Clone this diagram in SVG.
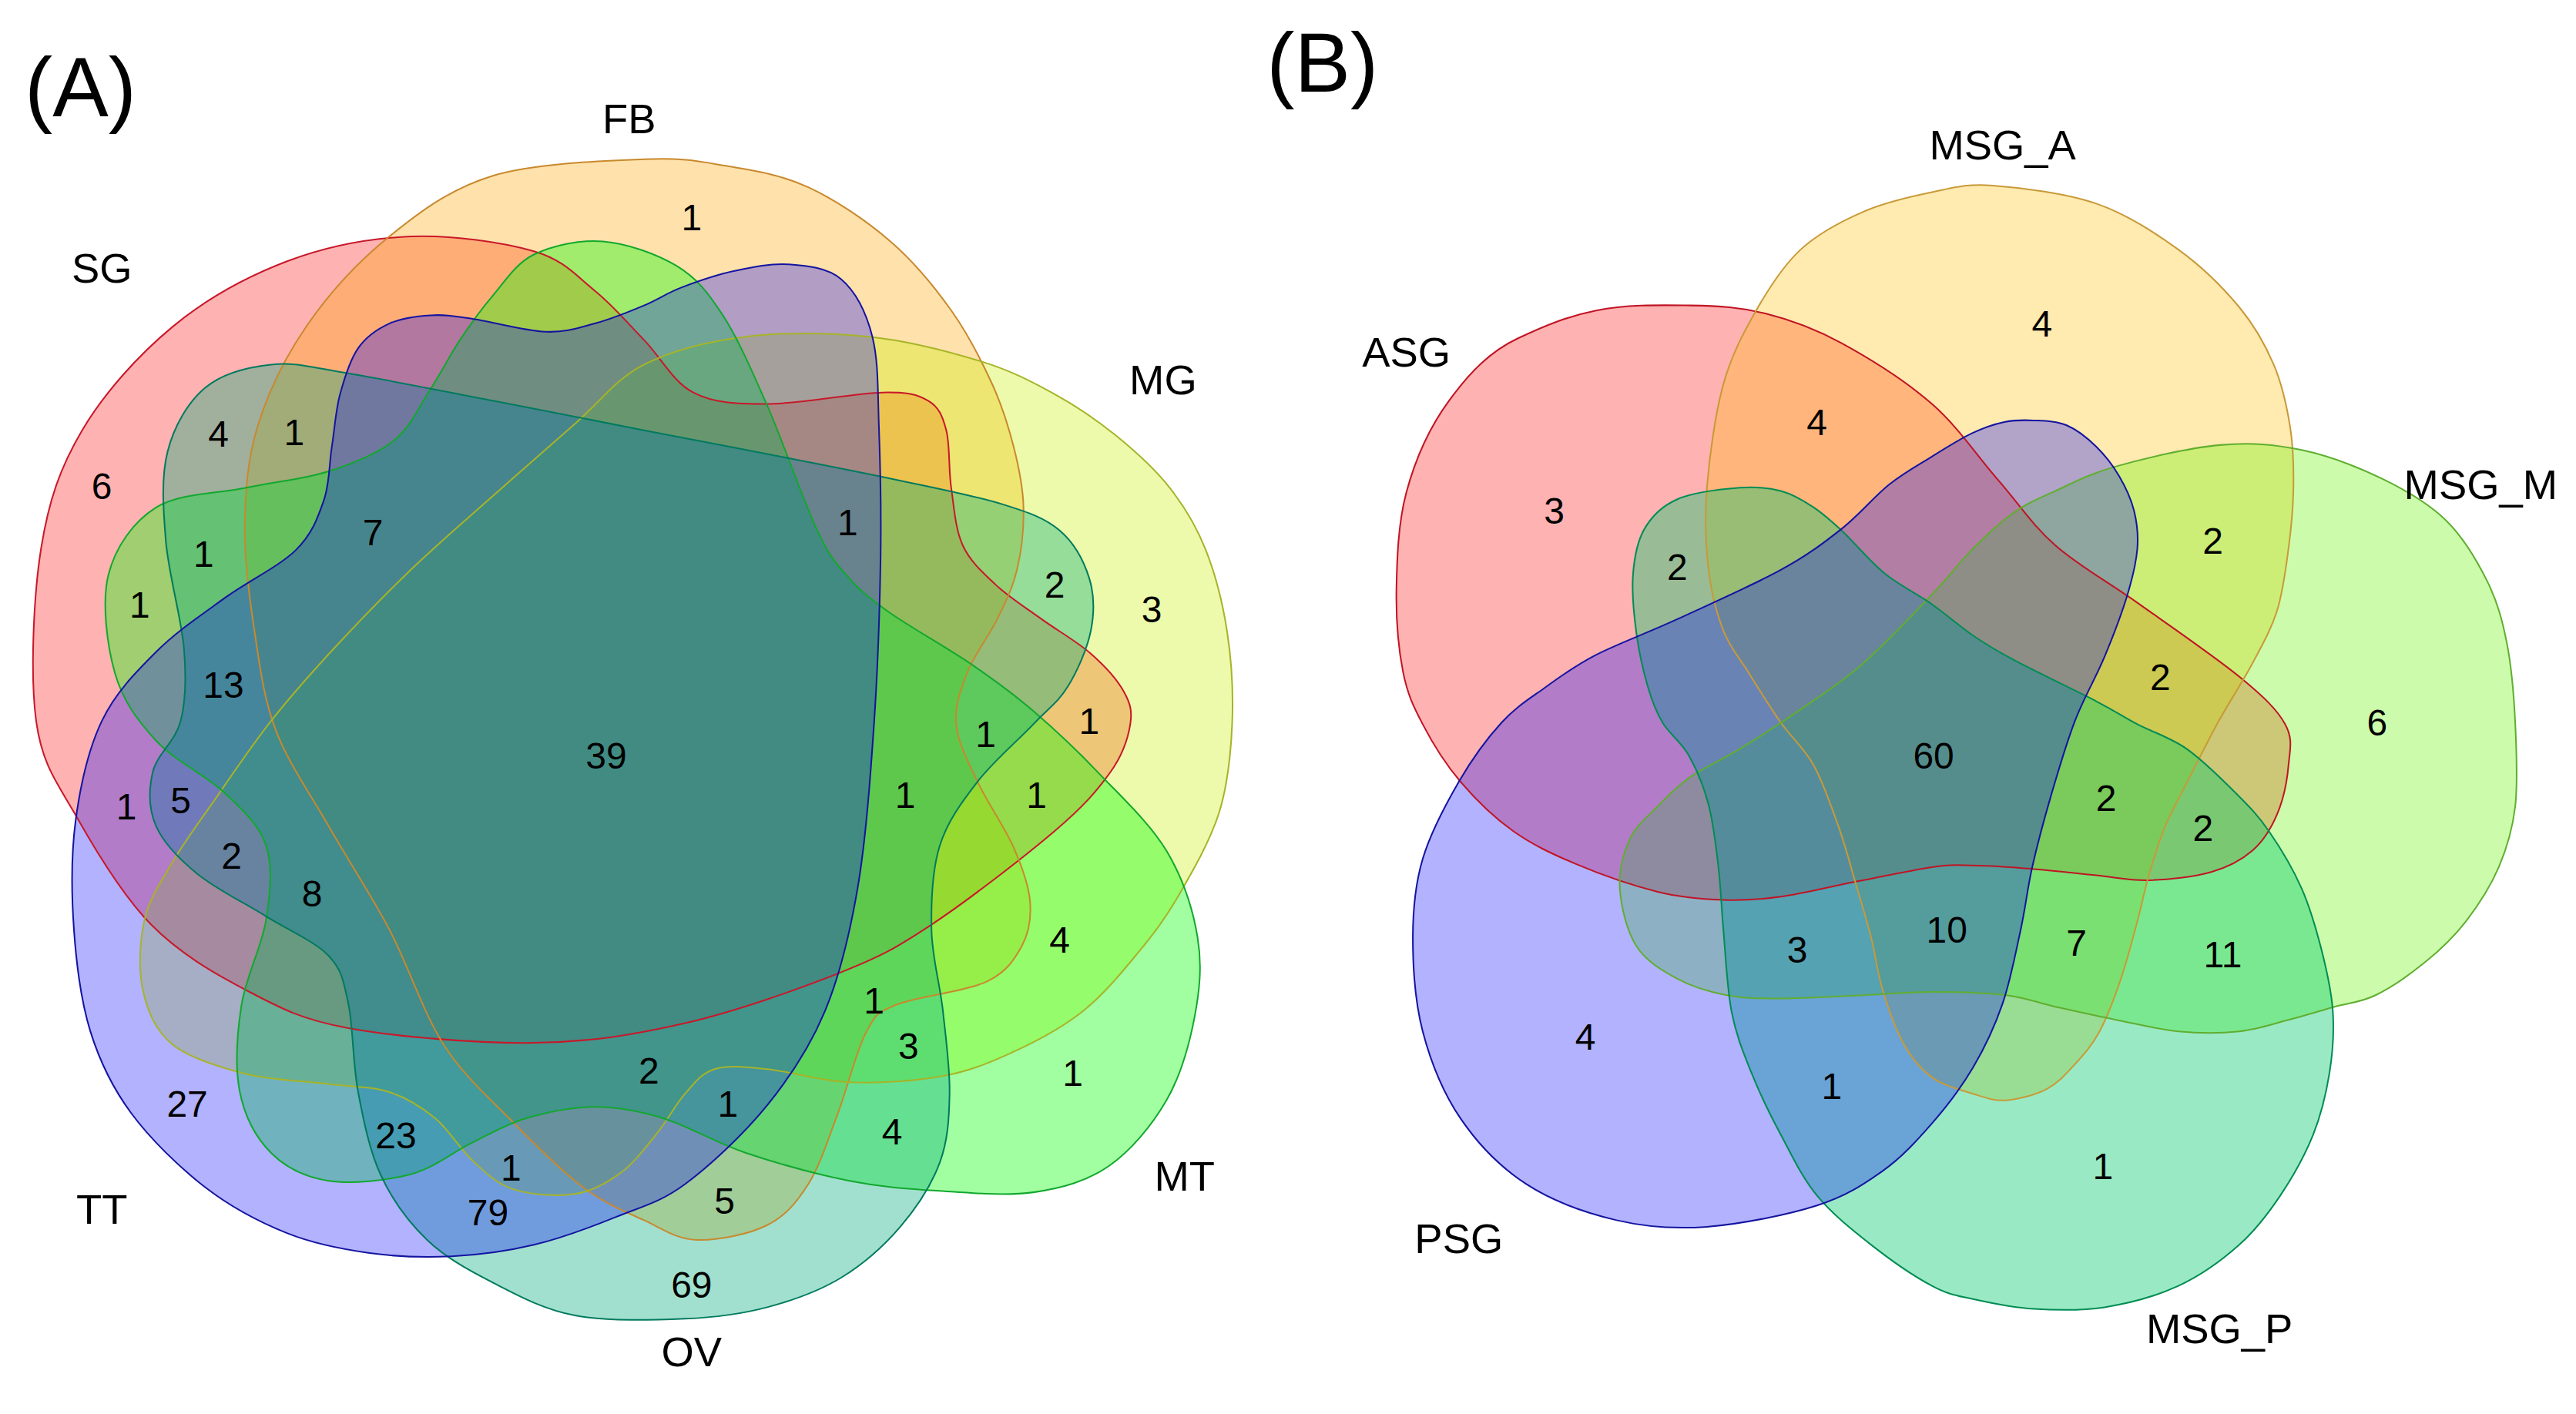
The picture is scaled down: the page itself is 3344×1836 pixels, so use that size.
<svg xmlns="http://www.w3.org/2000/svg" width="3344" height="1836" viewBox="0 0 3344 1836">
<style>
.node{stroke:none}
.a-sg{fill:#ff0000;fill-opacity:.3}
.a-fb{fill:#ffa500;fill-opacity:.33}
.a-mg{fill:#c8f000;fill-opacity:.33}
.a-mt{fill:#00ff00;fill-opacity:.37}
.a-ov{fill:#00ab7b;fill-opacity:.37}
.a-tt{fill:#0000ff;fill-opacity:.3}
.b-asg{fill:#ff0000;fill-opacity:.3}
.b-msga{fill:#ffbb00;fill-opacity:.31}
.b-msgm{fill:#64f600;fill-opacity:.33}
.b-msgp{fill:#00ca6b;fill-opacity:.4}
.b-psg{fill:#0000ff;fill-opacity:.3}
.ol use{fill:none;stroke-width:.95;stroke-linejoin:round}
.o-sg{stroke:#c8182a}
.o-fb{stroke:#c8892e}
.o-mg{stroke:#a6b428}
.o-mt{stroke:#12a82e}
.o-ov{stroke:#007a5e}
.o-tt{stroke:#1414a0}
.o-asg{stroke:#c01424}
.o-msga{stroke:#c89a38}
.o-msgm{stroke:#60ae30}
.o-msgp{stroke:#008c54}
.o-psg{stroke:#1414a0}
text{font-family:"Liberation Sans",Arial,Helvetica,sans-serif;fill:#000;text-anchor:middle}
.num{font-size:22.5px}
.lab{font-size:25.5px}
.panel{font-size:51px;text-anchor:start}
</style>
<rect width="3344" height="1836" fill="#ffffff"/>
<g transform="scale(2.13265,2.1324)">
<g id="panelA">
<g id="SG" class="node a-sg"><path id="p-SG" d="M22,439 C18.3,411.7 20.3,363.5 25,334 S36.7,284.5 50,262 S84.2,216.2 105,199 S150.8,168.2 175,159 S225,145 250,144 S306.3,147.5 325,153 S350.8,168 362,177 S382,196.7 392,207 S409.5,232.5 422,239 S447.8,246 467,246 S520.7,239.3 537,239 S558.5,240.2 565,244 S573.7,253.2 576,262 S577.3,285.3 579,297 S581.5,322.2 586,332 S598,348.5 606,356 S624.3,370 634,377 S655.7,390.7 664,398 S680,413.8 684,421 S689.3,432.8 688,441 S683.7,459.2 676,470 S660.2,490.5 642,506 S588.7,548.7 567,563 S537,582 512,592 S448.2,615.8 417,623 S359.2,634.5 325,635 S241.2,631.3 212,626 S170,613.5 150,603 S109.2,580.5 92,563 S58.7,518.7 47,498 S25.7,466.3 22,439 Z"/></g>
<g id="FB" class="node a-fb"><path id="p-FB" d="M392,97 C368.3,98 325.8,99.2 300,107 S255.8,128.8 237,144 S200.3,178.8 187,198 S163.3,238.7 157,259 S149.3,299 149,320 S151.8,364.2 155,385 S160.5,425.3 168,445 S188.5,482.8 200,503 S225.3,543.8 237,566 S257.5,616.5 270,636 S297.8,668.5 312,683 S341.7,713 355,723 S380.5,737.7 392,743 S411.5,754.5 424,755 S455.7,751.7 467,746 S484.8,732.3 492,721 S504.2,693.3 510,678 S521.2,640 527,629 S532.8,617.2 545,612 S587.2,604 600,598 S617.5,584.2 622,576 S627.8,559 627,549 S622.3,528.2 617,516 S600.8,488.5 595,476 S583,452.2 582,441 S584.8,419.7 589,409 S602,387.3 607,377 S616.3,358.3 619,347 S623.3,321.5 623,309 S620.2,284.5 617,272 S610.3,247.8 604,234 S589.3,203.5 579,189 S556.5,159.5 542,147 S508.7,121.7 492,114 S458.7,103.8 442,101 S415.7,96 392,97 Z"/></g>
<g id="MG" class="node a-mg"><path id="p-MG" d="M392,222 C409.3,213.2 431.2,207.8 454,205 S505.2,202.5 529,205 S578.2,214.2 597,220 S628.3,232.5 642,240 S667.3,255.5 679,265 S702.8,285.3 712,297 S728.2,320.3 734,335 S744.3,367.3 747,385 S750.8,422.7 750,441 S747.5,477.5 742,495 S725.3,531.7 717,546 S701.5,569.5 692,581 S672,605.3 660,615 S634.2,632.3 620,639 S592.2,651.7 575,655 S535,659.7 517,659 S480.7,652.3 467,651 S443.3,648.5 435,651 S422.8,659.5 417,666 S406.5,682 400,690 S386.3,707.8 378,714 S361,725.3 350,727 S322.5,727.5 312,724 S294.8,713.2 287,706 S273.3,687.8 265,681 S247.8,668.5 237,665 S214.5,661.8 200,660 S165.8,658 150,654 S115.5,644.5 105,636 S89.8,615.7 87,603 S85,573 88,560 S98,537 105,525 S120,502.3 130,488 S152.5,454.8 165,439 S190.8,408.3 205,393 S234.2,362.2 250,347 S283.3,316.8 300,302 S334.7,271.3 350,258 S374.7,230.8 392,222 Z"/></g>
<g id="MT" class="node a-mt"><path id="p-MT" d="M367,147 C381.5,148.2 399.8,154.5 412,162 S430.8,177.8 440,192 S457.5,225.3 467,247 S489,304.8 497,322 S507.8,341.7 515,350 S527.2,362.8 540,372 S577.2,394.8 592,405 S616.2,422 629,433 S655.5,456.8 669,471 S700,501.3 710,518 S726.2,554 729,571 S730.2,603.5 727,620 S718.7,655 710,670 S688.5,700.7 675,710 S646.5,723.5 629,726 S588.7,726.2 570,725 S536.3,722.8 517,719 S472.8,708.3 454,702 S419.3,685.7 404,681 S376,674 362,674 S332.5,677.3 320,681 S298.7,690.3 287,696 S264.5,711.2 250,715 S214.2,721.2 200,719 S174,711 165,702 S149,680 146,665 S144.3,629.5 147,612 S159.5,576.2 162,560 S166.2,527.8 162,515 S148.2,493.7 137,483 S106.2,463.2 95,451 S74.8,426.8 70,410 S61.8,366.8 66,350 S81,317.8 95,309 S132.5,300.7 150,297 S185,291.8 200,287 S229.7,276.3 240,268 S255.3,247.2 262,237 S273.7,216.5 280,207 S292.5,188.7 300,180 S313.8,160.5 325,155 S352.5,145.8 367,147 Z"/></g>
<g id="OV" class="node a-ov"><path id="p-OV" d="M165,222 C179.2,220.5 187.5,223.3 210,227 S269.7,238.2 300,244 S363.7,256.5 392,262 S444.5,272 470,277 S521.7,287 545,292 S593.3,301.8 610,307 S636.2,315.5 645,323 S659.8,341.8 663,352 S666.2,373 664,384 S655.8,408.5 650,418 S638.2,431.3 629,441 S604.5,463.7 595,476 S576.7,500 572,515 S566.7,549.2 567,566 S572.2,599.3 574,616 S578.3,650.7 578,666 S577,694.5 572,708 S558,735.3 548,747 S525.5,769.8 512,778 S482.8,791.8 467,796 S436.5,802.2 417,803 S369.5,804.7 350,801 S315,788.7 300,781 S271.3,765.8 260,755 S239,731 232,716 S221.3,682.5 218,665 S215,624.8 212,611 S208.3,590.8 200,582 S175.3,566.3 162,558 S131.2,541.2 120,532 S99.5,513.3 95,503 S90.5,480.7 93,470 S106.8,451.5 110,439 S113.5,413.2 112,395 S102.7,350 101,330 S98,290.7 102,275 S114.5,244.8 125,236 S150.8,223.5 165,222 Z"/></g>
<g id="TT" class="node a-tt"><path id="p-TT" d="M392,186 C383.2,189.7 372,194.3 362,197 S344.5,202.5 332,202 S298.7,195.7 287,194 S270.3,191.5 262,192 S244.3,193.7 237,197 S223,204.8 218,212 S209.7,230 207,240 S203.7,261.2 202,272 S200.7,294.5 197,305 S190,325.2 180,335 S151.2,353.7 137,364 S107.5,384.5 95,397 S70.2,421.8 62,439 S48.8,478.8 46,500 S43.5,544.7 45,566 S49.2,609.3 55,628 S68.3,662.2 80,678 S109.2,710.8 125,723 S158.3,744.3 175,751 S208.3,760.7 225,763 S258.3,765.8 275,765 S308.3,762 325,758 S359.7,747.2 375,741 S401.7,732.3 417,721 S452.8,690.5 467,673 S492.8,638 502,616 S517,570.2 522,541 S529.7,474.5 532,441 S535.5,370.2 536,340 S535.8,282.5 535,260 S534.8,220 531,205 S520.5,177.3 512,170 S490.8,161.8 480,161 S457.8,162.7 447,165 S424.2,171.5 415,175 S400.8,182.3 392,186 Z"/></g>
<g id="outlinesA" class="ol">
<use href="#p-SG" class="o-sg"/>
<use href="#p-FB" class="o-fb"/>
<use href="#p-MG" class="o-mg"/>
<use href="#p-MT" class="o-mt"/>
<use href="#p-OV" class="o-ov"/>
<use href="#p-TT" class="o-tt"/>
</g>
<g id="labelsA">
<text class="panel" x="15" y="71">(A)</text>
<text class="lab" x="383" y="81">FB</text>
<text class="lab" x="62" y="172">SG</text>
<text class="lab" x="708" y="240">MG</text>
<text class="lab" x="721" y="725">MT</text>
<text class="lab" x="62" y="745">TT</text>
<text class="lab" x="421" y="832">OV</text>
</g>
<g id="countsA">
<text class="num" x="421" y="140">1</text>
<text class="num" x="62" y="304">6</text>
<text class="num" x="133" y="272">4</text>
<text class="num" x="179" y="271">1</text>
<text class="num" x="124" y="345">1</text>
<text class="num" x="227" y="332">7</text>
<text class="num" x="516" y="326">1</text>
<text class="num" x="642" y="364">2</text>
<text class="num" x="701" y="379">3</text>
<text class="num" x="85" y="376">1</text>
<text class="num" x="136" y="425">13</text>
<text class="num" x="369" y="468">39</text>
<text class="num" x="600" y="455">1</text>
<text class="num" x="663" y="447">1</text>
<text class="num" x="551" y="492">1</text>
<text class="num" x="631" y="492">1</text>
<text class="num" x="77" y="499">1</text>
<text class="num" x="110" y="495">5</text>
<text class="num" x="141" y="529">2</text>
<text class="num" x="190" y="552">8</text>
<text class="num" x="645" y="580">4</text>
<text class="num" x="532" y="617">1</text>
<text class="num" x="553" y="645">3</text>
<text class="num" x="395" y="660">2</text>
<text class="num" x="653" y="661">1</text>
<text class="num" x="443" y="680">1</text>
<text class="num" x="114" y="680">27</text>
<text class="num" x="241" y="699">23</text>
<text class="num" x="543" y="697">4</text>
<text class="num" x="311" y="719">1</text>
<text class="num" x="441" y="739">5</text>
<text class="num" x="297" y="746">79</text>
<text class="num" x="421" y="790">69</text>
</g>
</g>
<g id="panelB">
<g id="ASG" class="node b-asg"><path id="p-ASG" d="M1029,186 C1046.5,186.2 1059.7,187.2 1075,191 S1104.2,199.8 1121,209 S1160.2,232.2 1176,246 S1203.5,277.7 1216,292 S1236.8,319.5 1251,332 S1282.3,353.7 1301,367 S1348,399.7 1363,412 S1386,432 1391,441 S1393.8,456.8 1393,466 S1389.7,487.3 1386,496 S1377.7,512.2 1371,518 S1356.5,528 1346,531 S1319.7,535.7 1308,536 S1288,534.2 1276,533 S1248.5,530 1236,529 S1211,527.2 1201,527 S1188,526.3 1176,528 S1144.3,534 1129,537 S1097.3,544.2 1084,546 S1061.5,548.5 1049,548 S1024,546.7 1009,543 S973.7,532.2 959,526 S932.7,514.3 921,506 S898.2,486.8 889,476 S871.8,452.2 866,441 S856.7,422.7 854,409 S849.7,377.2 850,359 S851,318.8 856,300 S869.3,261.3 882,244 S907,214 924,206 S953.8,192.7 972,189 S1011.5,185.8 1029,186 Z"/></g>
<g id="MSG_A" class="node b-msga"><path id="p-MSG_A" d="M1213,113 C1229.7,114.2 1257.2,117.5 1276,124 S1311.5,141.5 1326,152 S1353.3,175.3 1363,187 S1378.8,209.8 1384,222 S1392,247.5 1394,260 S1396.2,284.7 1396,297 S1394.7,321.5 1393,334 S1389.7,360.3 1386,372 S1377,392.7 1371,404 S1356.3,428.5 1350,440 S1338.3,462.5 1333,473 S1322.2,493 1318,503 S1310.8,523.3 1308,533 S1303.8,550.5 1301,561 S1294.8,584.8 1291,596 S1282.7,619.3 1278,628 S1268.3,642.2 1263,648 S1253,659.3 1246,663 S1228.5,669.5 1221,670 S1208.5,668.3 1201,666 S1183,661 1176,656 S1164,644.8 1159,636 S1149.3,613.8 1146,603 S1141.8,582.2 1139,571 S1132.3,547.3 1129,536 S1123.2,514.7 1119,503 S1109.8,476.5 1104,466 S1090.7,449.5 1084,440 S1069.8,418.3 1064,409 S1053,394.3 1049,384 S1041.7,361.5 1040,347 S1037.5,315.8 1039,297 S1044,252 1049,234 S1061.2,202.7 1069,189 S1085.2,162 1096,152 S1120.7,134.8 1134,129 S1162.8,119.7 1176,117 S1196.3,111.8 1213,113 Z"/></g>
<g id="MSG_M" class="node b-msgm"><path id="p-MSG_M" d="M1351,271 C1369.8,269.3 1384.3,270.5 1401,274 S1436.3,284.8 1451,292 S1478.5,306.7 1489,317 S1507.8,341.5 1514,354 S1523.2,377.7 1526,392 S1530.2,423.5 1531,440 S1532.7,476.3 1531,491 S1526,516.3 1521,528 S1508.5,551.3 1501,561 S1485.2,578.5 1476,586 S1455.2,601.5 1446,606 S1429.8,610.5 1421,613 S1402.7,618.5 1393,621 S1374.2,626.8 1363,628 S1338.5,629.2 1326,628 S1300.5,623.5 1288,621 S1262.2,615.5 1251,613 S1233.5,607.5 1221,606 S1190.5,604 1176,604 S1149.3,605.3 1134,606 S1097.8,608 1084,608 S1061.5,608 1051,606 S1030.2,601 1021,596 S1001.8,585.2 996,576 S986.7,551.8 986,541 S988.2,519.3 992,511 S1002.8,497.3 1009,491 S1020.7,478.8 1029,473 S1047.8,462.8 1059,456 S1083.5,440.7 1096,432 S1120.7,415.7 1134,404 S1164.8,373.7 1176,362 S1192.7,342.3 1201,334 S1217.7,317.8 1226,312 S1240.7,303.7 1251,299 S1271.3,288.7 1288,284 S1332.2,272.7 1351,271 Z"/></g>
<g id="MSG_P" class="node b-msgp"><path id="p-MSG_P" d="M1059,297 C1069.5,296.2 1076.5,297 1084,299 S1097.7,304.8 1104,309 S1114.8,317.3 1122,324 S1138,341.7 1147,349 S1167,361.7 1176,368 S1192.7,381.3 1201,387 S1213.5,395.3 1226,402 S1263.5,420.5 1276,427 S1291.8,436.2 1301,441 S1321,449 1331,456 S1352.7,474.7 1361,483 S1374.3,496.3 1381,506 S1395.7,529 1401,541 S1409.8,565.5 1413,578 S1419.2,603.5 1420,616 S1420,640.5 1418,653 S1413,678.5 1408,691 S1395.5,716.8 1388,728 S1373.3,748.8 1363,758 S1339.7,776.7 1326,783 S1295.7,793.7 1281,796 S1251.3,797.8 1238,797 S1211.3,793.3 1201,791 S1186.3,788.5 1176,783 S1150.7,767.2 1139,758 S1115.2,739.2 1106,728 S1090.7,703.5 1084,691 S1071,665.5 1066,653 S1056.8,630.5 1054,616 S1050.3,580.7 1049,566 S1047.5,540.7 1046,528 S1043,501.3 1040,490 S1032.7,468.3 1028,460 S1016.2,447 1012,440 S1005.7,427.2 1003,418 S997.5,396.3 996,385 S993.2,360.5 994,350 S996.5,329.7 1001,322 S1011.3,308.2 1021,304 S1048.5,297.8 1059,297 Z"/></g>
<g id="PSG" class="node b-psg"><path id="p-PSG" d="M1238,256 C1244.3,256.3 1251.7,256.3 1258,259 S1270.7,266.8 1276,272 S1286.2,283.5 1290,290 S1297.2,303.7 1299,311 S1301.7,325.5 1301,334 S1298.3,351 1295,362 S1286.3,387.2 1281,400 S1268.5,424.7 1263,439 S1252.3,471.2 1248,486 S1240,514.7 1237,528 S1233,552.2 1230,566 S1223.8,597 1219,611 S1208.2,637.8 1201,650 S1185.2,673.5 1176,684 S1157.7,704.7 1146,713 S1123.8,728.3 1106,734 S1059.3,745.5 1039,747 S1002.3,747.3 984,743 S944.8,731.3 929,721 S899.5,696.5 889,681 S870.8,646.3 866,628 S860,588.5 860,571 S861.3,538.8 866,523 S880,489.8 888,476 S905.3,449.5 914,440 S930.5,425.8 940,419 S957.5,406 971,399 S1002.2,385.7 1021,377 S1067.3,356.2 1084,347 S1110,330.7 1121,322 S1140.8,302.3 1150,295 S1167.7,283.2 1176,278 S1192.7,267.5 1200,264 S1213.7,258.3 1220,257 S1231.7,255.7 1238,256 Z"/></g>
<g id="outlinesB" class="ol">
<use href="#p-ASG" class="o-asg"/>
<use href="#p-MSG_A" class="o-msga"/>
<use href="#p-MSG_M" class="o-msgm"/>
<use href="#p-MSG_P" class="o-msgp"/>
<use href="#p-PSG" class="o-psg"/>
</g>
<g id="labelsB">
<text class="panel" x="771" y="56">(B)</text>
<text class="lab" x="1219" y="97">MSG_A</text>
<text class="lab" x="856" y="223">ASG</text>
<text class="lab" x="1510" y="304">MSG_M</text>
<text class="lab" x="888" y="763">PSG</text>
<text class="lab" x="1351" y="818">MSG_P</text>
</g>
<g id="countsB">
<text class="num" x="1243" y="205">4</text>
<text class="num" x="1106" y="265">4</text>
<text class="num" x="946" y="319">3</text>
<text class="num" x="1021" y="353">2</text>
<text class="num" x="1347" y="337">2</text>
<text class="num" x="1315" y="420">2</text>
<text class="num" x="1447" y="448">6</text>
<text class="num" x="1177" y="468">60</text>
<text class="num" x="1282" y="494">2</text>
<text class="num" x="1341" y="512">2</text>
<text class="num" x="1185" y="574">10</text>
<text class="num" x="1264" y="582">7</text>
<text class="num" x="1353" y="589">11</text>
<text class="num" x="1094" y="586">3</text>
<text class="num" x="965" y="639">4</text>
<text class="num" x="1115" y="669">1</text>
<text class="num" x="1280" y="718">1</text>
</g>
</g>
</g>
</svg>
